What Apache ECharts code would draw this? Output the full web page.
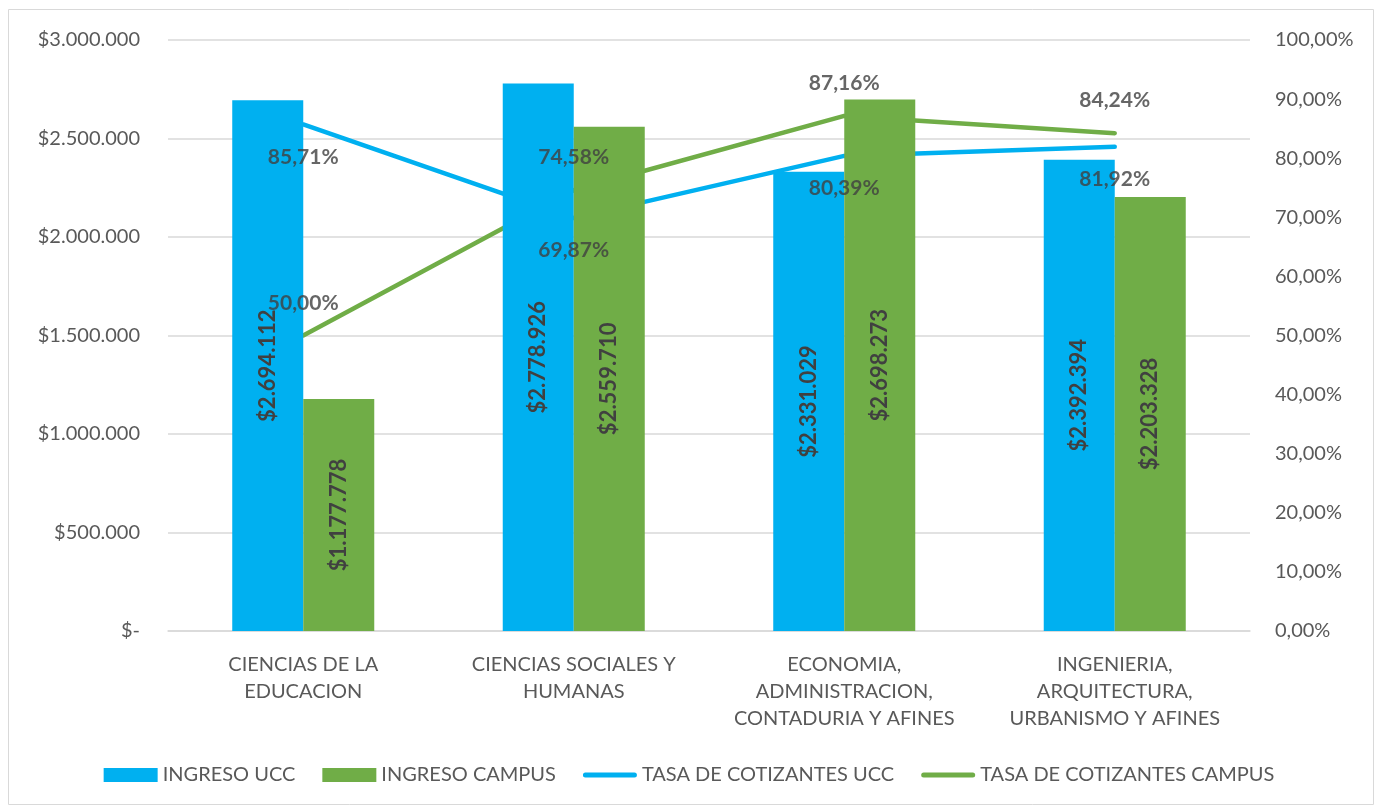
<!DOCTYPE html>
<html>
<head>
<meta charset="utf-8">
<script src="https://cdn.jsdelivr.net/npm/echarts@6/dist/echarts.min.js"></script>
<style>
  html, body { margin: 0; padding: 0; background: #fff; }
  #chart { width: 1378px; height: 808px; }
</style>
</head>
<body>
<div id="chart"></div>
<script>
const categories = [
    'CIENCIAS DE LA\nEDUCACION',
    'CIENCIAS SOCIALES Y\nHUMANAS',
    'ECONOMIA,\nADMINISTRACION,\nCONTADURIA Y AFINES',
    'INGENIERIA,\nARQUITECTURA,\nURBANISMO Y AFINES'
];
const ingresoUcc = [2694112, 2778926, 2331029, 2392394];
const ingresoCampus = [1177778, 2559710, 2698273, 2203328];
const tasaUcc = [85.71, 69.87, 80.39, 81.92];
const tasaCampus = [50.00, 74.58, 87.16, 84.24];

const BLUE = '#00B0F0';
const GREEN = '#70AD47';
const FONT = 'Lato';
// thin rounded stripe inside a 54x14 box (tiny corner specks keep the box size)
const LINE_ICON = 'path://M0,0L0.01,0L0,0.01Z M54,14L53.99,14L54,13.99Z ' +
    'M2.5,4.5L51.5,4.5A2.5,2.5 0 0 1 51.5,9.5L2.5,9.5A2.5,2.5 0 0 1 2.5,4.5Z';

function money(v) {
    if (v === 0) return '$-';
    return '$' + String(Math.round(v)).replace(/\B(?=(\d{3})+(?!\d))/g, '.');
}
function pct(v) {
    return v.toFixed(2).replace('.', ',') + '%';
}

const chart = echarts.init(document.getElementById('chart'));

const barLabel = {
    show: true,
    position: 'inside',
    rotate: 90,
    color: '#404040',
    fontWeight: 'bold',
    fontSize: 22,
    fontFamily: FONT,
    formatter: (p) => money(p.value)
};

// labels for the lines go in their own scatter series so they sit above the bars
function pctLabels(name, data, pos) {
    return {
        name: name + ' labels',
        type: 'scatter',
        yAxisIndex: 1,
        data: data,
        symbolSize: 0,
        silent: true,
        z: 5,
        label: {
            show: true, position: pos, distance: 22,
            color: '#404040', fontWeight: 'bold', fontSize: 21, fontFamily: FONT,
            formatter: (p) => pct(p.value)
        },
        labelLayout: { hideOverlap: false }
    };
}

chart.setOption({
    animation: false,
    textStyle: { fontFamily: FONT },
    graphic: [{
        type: 'rect',
        shape: { x: 8.5, y: 9.5, width: 1365, height: 795 },
        style: { fill: 'none', stroke: '#d9d9d9', lineWidth: 1 },
        silent: true
    }],
    grid: { left: 168, right: 128, top: 40, bottom: 177 },
    legend: {
        bottom: 18,
        left: 'center',
        itemGap: 27,
        textStyle: { color: '#595959', fontSize: 20, fontFamily: FONT },
        data: [
            { name: 'INGRESO UCC', icon: 'rect', itemStyle: { color: BLUE } },
            { name: 'INGRESO CAMPUS', icon: 'rect', itemStyle: { color: GREEN } },
            { name: 'TASA DE COTIZANTES UCC', icon: LINE_ICON, itemStyle: { color: BLUE } },
            { name: 'TASA DE COTIZANTES CAMPUS', icon: LINE_ICON, itemStyle: { color: GREEN } }
        ],
        itemWidth: 54,
        itemHeight: 14
    },
    xAxis: {
        type: 'category',
        data: categories,
        axisLine: { lineStyle: { color: '#d9d9d9', width: 1.5 } },
        axisTick: { show: false },
        axisLabel: { color: '#595959', fontSize: 20, lineHeight: 27, margin: 20, interval: 0 }
    },
    yAxis: [{
        type: 'value',
        min: 0, max: 3000000, interval: 500000,
        axisLine: { show: false },
        axisTick: { show: false },
        splitLine: { lineStyle: { color: '#d9d9d9', width: 1.5 } },
        axisLabel: { color: '#595959', fontSize: 20, margin: 28, formatter: money }
    }, {
        type: 'value',
        min: 0, max: 100, interval: 10,
        axisLine: { show: false },
        axisTick: { show: false },
        splitLine: { show: false },
        axisLabel: { color: '#595959', fontSize: 20, margin: 25, formatter: pct }
    }],
    series: [{
        name: 'INGRESO UCC',
        type: 'bar',
        data: ingresoUcc,
        itemStyle: { color: BLUE },
        barGap: '0%',
        barCategoryGap: '47.5%',
        label: barLabel,
        z: 3
    }, {
        name: 'INGRESO CAMPUS',
        type: 'bar',
        data: ingresoCampus,
        itemStyle: { color: GREEN },
        barGap: '0%',
        barCategoryGap: '47.5%',
        label: barLabel,
        z: 3
    }, {
        name: 'TASA DE COTIZANTES UCC',
        type: 'line',
        yAxisIndex: 1,
        data: tasaUcc,
        symbol: 'none',
        lineStyle: { color: BLUE, width: 4.5, cap: 'round' },
        itemStyle: { color: BLUE },
        z: 2
    }, {
        name: 'TASA DE COTIZANTES CAMPUS',
        type: 'line',
        yAxisIndex: 1,
        data: tasaCampus,
        symbol: 'none',
        lineStyle: { color: GREEN, width: 4.5, cap: 'round' },
        itemStyle: { color: GREEN },
        z: 2
    },
    pctLabels('TASA DE COTIZANTES UCC', tasaUcc, 'bottom'),
    pctLabels('TASA DE COTIZANTES CAMPUS', tasaCampus, 'top')]
});
</script>
</body>
</html>
